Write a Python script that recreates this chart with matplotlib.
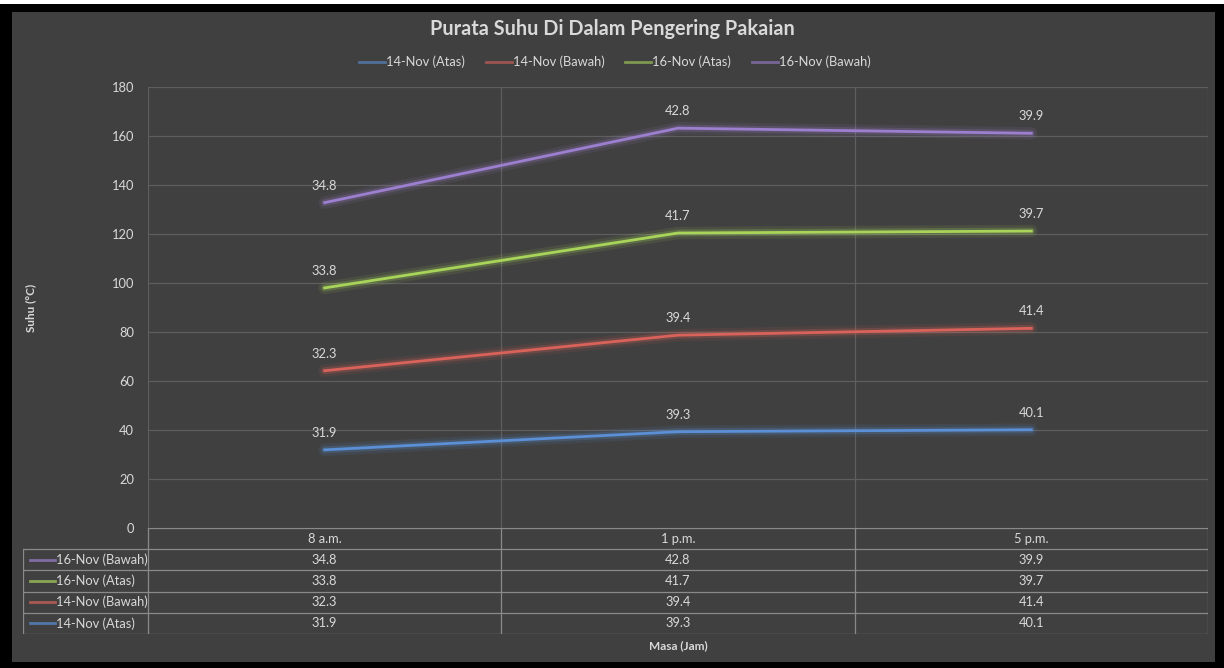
import numpy as np
import matplotlib.pyplot as plt
from matplotlib.patches import Rectangle

plt.rcParams['font.family'] = ['Lato', 'DejaVu Sans']

categories = ['8 a.m.', '1 p.m.', '5 p.m.']
series_names = ['14-Nov (Atas)', '14-Nov (Bawah)', '16-Nov (Atas)', '16-Nov (Bawah)']
nov14_atas = [31.9, 39.3, 40.1]
nov14_bawah = [32.3, 39.4, 41.4]
nov16_atas = [33.8, 41.7, 39.7]
nov16_bawah = [34.8, 42.8, 39.9]
colors = ['#5b8fd6', '#d9625a', '#a8d45a', '#9d7fcf']

series = [nov14_atas, nov14_bawah, nov16_atas, nov16_bawah]
stacked = np.cumsum(np.array(series), axis=0)

W, H = 1224, 668
fig = plt.figure(figsize=(W / 100, H / 100), dpi=100)
fig.patch.set_facecolor('black')
fig.patches.append(Rectangle((0, 1 - 4 / H), 1, 4 / H, transform=fig.transFigure,
                             facecolor='white', edgecolor='none', zorder=-5))
fig.patches.append(Rectangle((12 / W, 1 - 662 / H), (1215 - 12) / W, (662 - 12) / H,
                             transform=fig.transFigure, facecolor='#404040',
                             edgecolor='none', zorder=-5))

txt = '#d9d9d9'
grid = '#5e5e5e'
fs = 9.3

def fbox(x0, y0, x1, y1):
    return [x0 / W, 1 - y1 / H, (x1 - x0) / W, (y1 - y0) / H]

ax = fig.add_axes(fbox(148, 87, 1208, 528))
ax.set_facecolor('none')
x = np.arange(len(categories)) + 0.5
for i, (name, col) in enumerate(zip(series_names, colors)):
    ys = stacked[i]
    ax.plot(x, ys, color=col, lw=9, alpha=0.10, solid_capstyle='round', zorder=2)
    ax.plot(x, ys, color=col, lw=5, alpha=0.22, solid_capstyle='round', zorder=2)
    ax.plot(x, ys, color=col, lw=2, label=name, zorder=3)
    for xi, yi, v in zip(x, ys, series[i]):
        ax.annotate(f'{v}', (xi, yi), xytext=(0, 8), textcoords='offset points',
                    ha='center', va='bottom', color=txt, fontsize=fs)

ax.set_xlim(0, 3)
ax.set_ylim(0, 180)
ax.set_yticks(np.arange(0, 181, 20))
ax.set_xticks([1, 2])
ax.tick_params(axis='x', length=0, labelbottom=False)
ax.tick_params(axis='y', length=0, colors=txt, labelsize=fs, pad=10)
ax.grid(True, color=grid, lw=0.9)
for s in ax.spines.values():
    s.set_visible(False)
ax.axvline(0, color=grid, lw=0.9)
ax.axvline(3, color=grid, lw=0.9)
ax.set_ylabel('Suhu (°C)', color=txt, fontsize=8.5, fontweight='bold')
ax.yaxis.set_label_coords((36 - 148) / 1060, 0.5)

fig.text(612 / W, 1 - 29 / H, 'Purata Suhu Di Dalam Pengering Pakaian', ha='center',
         va='center', color=txt, fontsize=14.3, fontweight='bold')
leg = fig.legend(loc='center', bbox_to_anchor=(615 / W, 1 - 62 / H), ncol=4, frameon=False,
                 fontsize=fs, handlelength=2.0, handletextpad=0.1, columnspacing=1.6)
for t in leg.get_texts():
    t.set_color(txt)
for h in leg.legend_handles:
    h.set_alpha(0.6)

# data table below the plot
tab = fig.add_axes(fbox(23, 528, 1208, 634))
tab.set_xlim(-125 / (1060 / 3), 3)
tab.set_ylim(0, 5)
tab.axis('off')
lc = '#8a8a8a'
x0 = -125 / (1060 / 3)
tab.plot([0, 3], [5, 5], color=lc, lw=0.9)
for yy in range(0, 5):
    tab.plot([x0, 3], [yy, yy], color=lc, lw=0.9)
tab.plot([x0, x0], [0, 4], color=lc, lw=0.9)
for xx in range(0, 4):
    tab.plot([xx, xx], [0, 5], color=lc, lw=0.9)
for ci, cat in enumerate(categories):
    tab.text(ci + 0.5, 4.5, cat, ha='center', va='center', color=txt, fontsize=fs)
for r, i in enumerate([3, 2, 1, 0]):
    yc = 3.5 - r
    tab.plot([x0 + 0.02, x0 + 0.09], [yc, yc], color=colors[i], lw=2, alpha=0.7)
    tab.text(x0 + 0.093, yc, series_names[i], ha='left', va='center', color=txt, fontsize=fs)
    for ci, v in enumerate(series[i]):
        tab.text(ci + 0.5, yc, f'{v}', ha='center', va='center', color=txt, fontsize=fs)

fig.text(678 / W, 1 - 646 / H, 'Masa (Jam)', ha='center', va='center', color=txt,
         fontsize=8.5, fontweight='bold')

fig.savefig('out.png', dpi=100, facecolor=fig.get_facecolor())
